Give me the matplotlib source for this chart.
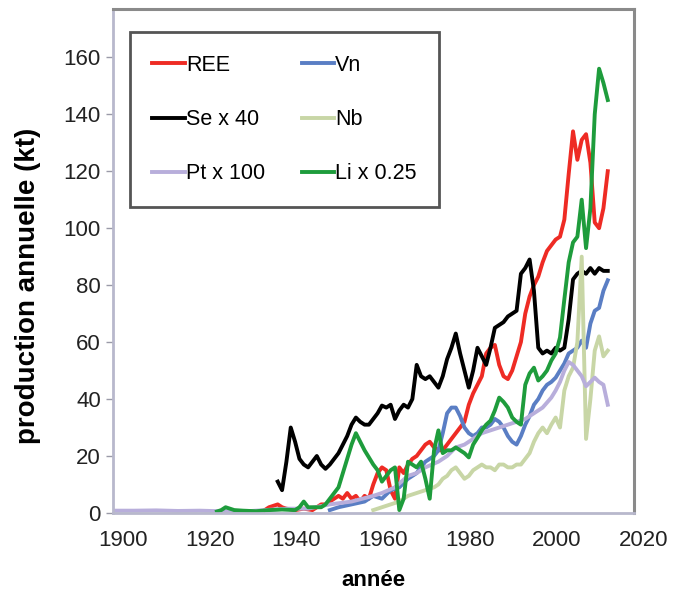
import matplotlib
matplotlib.use("Agg")
import matplotlib.pyplot as plt
import matplotlib.transforms as mtransforms

plt.rcParams['font.family'] = ['Liberation Sans', 'DejaVu Sans']

# values (kt, scaled series as in the legend)
ree_years = [1935, 1936, 1937, 1938, 1939, 1940, 1942, 1944, 1946, 1947, 1948, 1949, 1950, 1951,
             1952, 1953, 1954, 1955, 1956, 1957, 1958, 1959, 1960, 1961, 1962, 1963, 1964, 1965,
             1966, 1967, 1968, 1969, 1970, 1971, 1972, 1973, 1974, 1975, 1976, 1977, 1978, 1979,
             1980, 1981, 1982, 1983, 1984, 1985, 1986, 1987, 1988, 1989, 1990, 1991, 1992, 1993,
             1994, 1995, 1996, 1997, 1998, 1999, 2000, 2001, 2002, 2003, 2004, 2005, 2006, 2007,
             2008, 2009, 2010, 2011, 2012, 2013, 2014]
ree_vals = [1, 2, 2.5, 3, 2, 1.5, 1, 1.5, 1, 2, 3, 3, 4, 5,
            6, 5, 7, 5, 6, 4, 6, 5, 10, 14, 16, 15, 8, 5,
            16, 14, 17, 19, 20, 22, 24, 25, 23, 22, 22, 24, 26, 28,
            30, 32, 38, 42, 45, 48, 56, 58, 59, 52, 48, 47, 50, 55,
            60, 70, 76, 80, 83, 88, 92, 94, 96, 97, 103, 119, 134, 124,
            131, 133, 123, 102, 100, 107, 120]

vn_years = [1950, 1952, 1955, 1958, 1960, 1962, 1964, 1966, 1968, 1970, 1972, 1974, 1975, 1976,
            1977, 1978, 1979, 1980, 1981, 1982, 1983, 1984, 1985, 1986, 1987, 1988, 1989, 1990,
            1991, 1992, 1993, 1994, 1995, 1996, 1997, 1998, 1999, 2000, 2001, 2002, 2003, 2004,
            2005, 2006, 2007, 2008, 2009, 2010, 2011, 2012, 2013, 2014]
vn_vals = [1, 2, 3, 4, 6, 5, 8, 9, 12, 14, 18, 20, 22, 28,
           35, 37, 37, 34, 30, 28, 27, 28, 30, 30, 31, 33, 32, 30,
           27, 25, 24, 27, 31, 34, 38, 40, 43, 45, 46, 47.5, 50, 52.5,
           56, 57, 58, 60.5, 58, 66.5, 71, 72, 78, 81.7]

se_years = [1938, 1939, 1940, 1941, 1942, 1943, 1944, 1945, 1946, 1947, 1948, 1949, 1950, 1951,
            1952, 1953, 1954, 1955, 1956, 1957, 1958, 1959, 1960, 1961, 1962, 1963, 1964, 1965,
            1966, 1967, 1968, 1969, 1970, 1971, 1972, 1973, 1974, 1975, 1976, 1977, 1978, 1979,
            1980, 1981, 1982, 1983, 1984, 1985, 1986, 1987, 1988, 1989, 1990, 1991, 1992, 1993,
            1994, 1995, 1996, 1997, 1998, 1999, 2000, 2001, 2002, 2003, 2004, 2005, 2006, 2007,
            2008, 2009, 2010, 2011, 2012, 2013, 2014]
se_vals = [11, 8, 18, 30, 25, 19, 17, 16, 18, 20, 17, 15.5, 17, 19,
           21, 24, 27, 31, 33.5, 32, 31, 31, 33, 35, 37.7, 37, 38, 33,
           36, 38, 37, 40, 52, 48, 47, 48, 46, 44, 48, 54, 58, 63,
           56, 50, 44, 50, 58, 55, 52, 58, 65, 66, 67, 69, 70, 71,
           84, 86, 89, 78, 58, 56, 57, 56, 58, 57, 58, 68, 82, 84,
           85, 84, 86, 84, 86, 85, 85]

nb_years = [1960, 1962, 1964, 1966, 1968, 1970, 1972, 1974, 1975, 1976, 1977, 1978, 1979, 1980,
            1981, 1982, 1983, 1984, 1985, 1986, 1987, 1988, 1989, 1990, 1991, 1992, 1993, 1994,
            1995, 1996, 1997, 1998, 1999, 2000, 2001, 2002, 2003, 2004, 2005, 2006, 2007, 2008,
            2009, 2010, 2011, 2012, 2013, 2014]
nb_vals = [1, 2, 3, 4, 6, 7, 8, 9, 10, 12, 13, 15, 16, 14,
           12, 13, 15, 16, 17, 16, 16, 15, 17, 17, 16, 16, 17, 17,
           19, 21, 25, 28, 30, 28, 31, 33.5, 30, 43, 48, 51, 60, 90,
           26, 40, 57, 62, 55, 57]

pt_years = [1900, 1905, 1910, 1915, 1920, 1925, 1930, 1935, 1940, 1945, 1950, 1955, 1960, 1962,
            1965, 1968, 1970, 1972, 1975, 1977, 1979, 1981, 1983, 1985, 1987, 1989, 1991, 1993,
            1995, 1997, 1999, 2001, 2002, 2003, 2004, 2005, 2006, 2007, 2008, 2009, 2010, 2011,
            2012, 2013, 2014]
pt_vals = [0.8, 0.8, 0.9, 0.7, 0.8, 0.6, 0.5, 1, 1.5, 1.5, 3, 4, 6, 7,
           9, 13, 14, 16, 18, 20, 23, 24, 26, 28, 29, 30, 31, 32,
           33, 35, 37, 40.5, 43, 46, 50, 53, 52, 50, 48, 44.5, 46, 47.5,
           46, 45, 38]

li_years = [1924, 1925, 1926, 1927, 1928, 1930, 1933, 1936, 1939, 1942, 1943, 1944, 1945, 1946,
            1947, 1948, 1949, 1950, 1951, 1952, 1953, 1954, 1955, 1956, 1957, 1958, 1959, 1960,
            1961, 1962, 1963, 1964, 1965, 1966, 1967, 1968, 1969, 1970, 1971, 1972, 1973, 1974,
            1975, 1976, 1977, 1978, 1979, 1980, 1981, 1982, 1983, 1984, 1985, 1986, 1987, 1988,
            1989, 1990, 1991, 1992, 1993, 1994, 1995, 1996, 1997, 1998, 1999, 2000, 2001, 2002,
            2003, 2004, 2005, 2006, 2007, 2008, 2009, 2010, 2011, 2012, 2013, 2014]
li_vals = [0.5, 1, 2, 1.5, 1, 0.8, 0.6, 1, 1.2, 1, 2, 4, 2, 2,
           2, 2, 3, 5, 7, 9, 14, 19, 24, 28, 25, 22, 19.5, 17,
           15, 11, 13, 15, 16, 1, 5, 18, 17, 16, 18, 12, 5, 22,
           29, 21, 22, 22, 23, 22, 21, 19.5, 24, 26.4, 29, 31, 32.4, 36,
           40.5, 39, 37, 33.5, 32, 31, 45, 49, 51, 46.5, 48, 50, 53.5, 56,
           61.6, 75, 88, 95, 97, 110, 93, 107, 140, 156, 151, 145]

x_ticks = [1900, 1920, 1940, 1960, 1980, 2000, 2020]
y_ticks = [0, 20, 40, 60, 80, 100, 120, 140, 160]

fig = plt.figure(figsize=(6.83, 5.93), dpi=100)
ax = fig.add_axes([0.165, 0.135, 0.763, 0.85])

lw = 2.8
l_ree, = ax.plot(ree_years, ree_vals, color='#ee2b24', lw=lw, label='REE')
l_vn, = ax.plot(vn_years, vn_vals, color='#5a7ec4', lw=lw, label='Vn')
l_se, = ax.plot(se_years, se_vals, color='black', lw=lw, label='Se x 40')
l_nb, = ax.plot(nb_years, nb_vals, color='#c8d6a6', lw=lw, label='Nb')
l_pt, = ax.plot(pt_years, pt_vals, color='#b8aedb', lw=lw, label='Pt x 100')
l_li, = ax.plot(li_years, li_vals, color='#1e9c3c', lw=lw, label='Li x 0.25')

ax.set_xlim(1900, 2020)
ax.set_ylim(0, 177)
ax.set_xticks(x_ticks)
ax.set_yticks(y_ticks)
ax.tick_params(axis='both', labelsize=16, colors='#9a9aa8', labelcolor='#222222')
ax.tick_params(axis='y', length=5, width=1)
ax.tick_params(axis='x', length=0, pad=12)

# x labels sit a little to the right of their ticks in the original
shift = mtransforms.ScaledTranslation(0.10, 0, fig.dpi_scale_trans)
for lab in ax.get_xticklabels():
    lab.set_transform(lab.get_transform() + shift)

for side in ['top', 'right']:
    ax.spines[side].set_color('#8a8a8a')
    ax.spines[side].set_linewidth(2.2)
for side in ['left', 'bottom']:
    ax.spines[side].set_color('#b8b8cc')
    ax.spines[side].set_linewidth(2)

ax.set_xlabel('année', fontsize=16, fontweight='bold', labelpad=14)
ax.set_ylabel('production annuelle (kt)', fontsize=20, fontweight='bold')
ax.yaxis.set_label_coords(-0.137, 0.45)

leg = ax.legend(handles=[l_ree, l_se, l_pt, l_vn, l_nb, l_li], ncol=2,
                loc='upper left', bbox_to_anchor=(0.033, 0.954), borderaxespad=0,
                fontsize=15.5, handlelength=1.5, handletextpad=0.05, columnspacing=1.7,
                labelspacing=1.55, borderpad=1.05, fancybox=False, framealpha=1)
leg.get_frame().set_edgecolor('#555555')
leg.get_frame().set_linewidth(2)

fig.savefig('out.png', dpi=100)
